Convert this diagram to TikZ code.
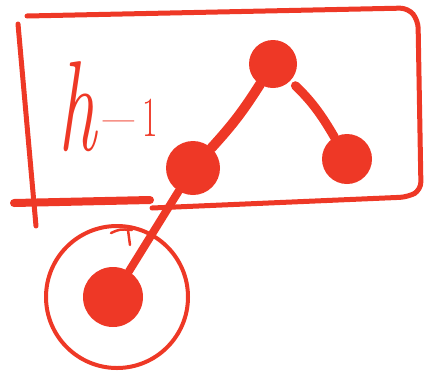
\documentclass[tikz,border=0pt]{standalone}
\usepackage{tikz}
\usetikzlibrary{arrows.meta,positioning,calc}
\definecolor{inkred}{RGB}{238,56,38}
\tikzset{
  frame/.style={draw=inkred, line width=5pt, line cap=round, line join=round},
  dot/.style={circle, fill=inkred, inner sep=0pt},
  ring/.style={draw=inkred, circle, line width=4pt, inner sep=0pt, minimum size=142pt},
  edge/.style={draw=inkred, line width=10pt, line cap=round},
  tag/.style={text=inkred, inner sep=0pt, font=\fontsize{95}{95}\selectfont\itshape}
}
\begin{document}
\begin{tikzpicture}[x=1pt, y=-1pt]
  \useasboundingbox (0,0) rectangle (433,373);
  % box round the upper part of the tree
  \draw[frame] (18,24) -- (36,226);
  \draw[frame, rounded corners=8pt] (27,16) -- (408,8) -- (418,20) -- (421,190) -- (408,197) -- (152,208);
  \draw[frame, line width=8pt] (14,203) -- (150,200);
  \node[tag, xscale=0.8, yscale=1.35, anchor=base west] (h) at (58,150) {h\raisebox{10pt}{\fontsize{42}{42}\selectfont\upshape\kern9pt---\kern10pt 1}};
  % tree
  \node[dot, minimum size=48pt] (top) at (273,64) {};
  \node[dot, minimum size=54pt] (mid) at (193,168) {};
  \node[dot, minimum size=50pt] (right) at (347,159) {};
  \node[dot, minimum size=60pt] (leaf) at (113,297) {};
  \node[ring] (halo) at (117,297) {};
  \draw[edge] (top) to[bend left=5] (mid);
  \draw[edge, line width=9pt, shorten <=7pt] (top) to[bend left=8] (right);
  \draw[edge, line width=8pt] (mid) -- (leaf);
  % small mark on the ring
  \draw[draw=inkred, line width=2.5pt, line cap=round] (111,233) .. controls (120,229) .. (132,230);
  \draw[draw=inkred, line width=2.5pt, line cap=round] (128,230) -- (130,245);
\end{tikzpicture}
\end{document}
